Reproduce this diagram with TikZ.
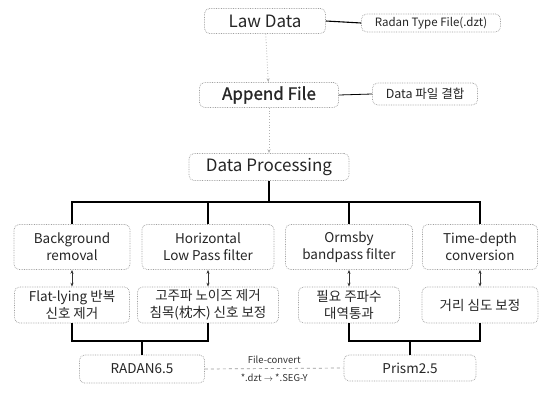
\documentclass[tikz,border=0pt]{standalone}
\usepackage{fontspec}
\setmainfont{Noto Sans CJK KR}
\newfontfamily\semib[FakeBold=1.2]{Noto Sans CJK KR}
\usetikzlibrary{arrows.meta}
\tikzset{
  box/.style={draw=gray!75, densely dotted, line width=0.7pt, rounded corners=5pt, inner sep=0pt, align=center, text=black!85},
  big/.style={box, font=\fontsize{17}{19}\selectfont},
  small/.style={box, font=\fontsize{11.5}{13}\selectfont},
  mid/.style={box, font=\fontsize{13.5}{17}\selectfont},
  tree/.style={draw=black, line width=1.1pt},
  flow/.style={draw=gray!60, dotted, line width=0.8pt, -{Stealth[length=4pt]}},
  dbl/.style={draw=black!80, line width=1pt, {Stealth[length=4pt]}-{Stealth[length=4pt]}},
}
\begin{document}
\begin{tikzpicture}[x=1pt,y=-1pt]
\useasboundingbox[fill=white] (0,0) rectangle (542,394);
% top chain
\node[big, minimum width=121pt, minimum height=25pt] (law) at (265,21) {Law Data};
\node[small, minimum width=139pt, minimum height=18pt] (radan) at (431,23) {Radan Type File(.dzt)};
\node[big, minimum width=139pt, minimum height=25pt, font=\semib\fontsize{17}{19}\selectfont] (app) at (269,95) {Append File};
\node[small, minimum width=105pt, minimum height=22pt, font=\fontsize{12.5}{14}\selectfont] (merge) at (425,94) {Data 파일 결합};
\node[big, minimum width=160pt, minimum height=27pt] (dp) at (269,167) {Data Processing};
\draw[tree] (law.east) -- (radan.west);
\draw[draw=black, line width=0.8pt] (app.east) -- (merge.west);
\draw[flow] (law) -- (app);
\draw[flow] (app) -- (dp);
% row 1
\node[mid, minimum width=116pt, minimum height=45pt] (b1) at (72,247) {Background\\removal};
\node[mid, minimum width=132pt, minimum height=45pt] (b2) at (208,247) {Horizontal\\Low Pass filter};
\node[mid, minimum width=127pt, minimum height=45pt] (b3) at (349,247) {Ormsby\\bandpass filter};
\node[mid, minimum width=115pt, minimum height=45pt] (b4) at (480,247) {Time-depth\\conversion};
% row 2
\node[mid, minimum width=115pt, minimum height=36pt] (c1) at (72,305) {Flat-lying 반복\\신호 제거};
\node[mid, minimum width=141pt, minimum height=36pt] (c2) at (208,305) {고주파 노이즈 제거\\침목(枕木) 신호 보정};
\node[mid, minimum width=101pt, minimum height=36pt] (c3) at (349,305) {필요 주파수\\대역통과};
\node[mid, minimum width=116pt, minimum height=36pt] (c4) at (480,305) {거리 심도 보정};
% tree from Data Processing
\coordinate (j) at (269,202);
\draw[tree, line width=1.8pt] (dp.south) -- (j);
\draw[tree] (b1.north) |- (b4.north |- j) -- (b4.north);
\draw[tree] (b2.north) -- (b2.north |- j);
\draw[tree] (b3.north) -- (b3.north |- j);
% double arrows
\draw[dbl] (b1.south) -- (c1.north);
\draw[dbl] (b2.south) -- (c2.north);
\draw[dbl] (b3.south) -- (c3.north);
\draw[dbl] (b4.south) -- (c4.north);
% bottom programs
\node[mid, minimum width=125pt, minimum height=28pt] (rad) at (142,369) {RADAN6.5};
\node[mid, minimum width=132pt, minimum height=26pt] (pri) at (410,368) {Prism2.5};
\coordinate (k1) at (142,341);
\coordinate (k2) at (410,341);
\draw[tree] (c1.south) |- (c2.south |- k1) -- (c2.south);
\draw[tree] (k1) -- (rad.north);
\draw[tree] (c3.south) |- (c4.south |- k2) -- (c4.south);
\draw[tree] (k2) -- (pri.north);
% file convert
\draw[draw=gray!80, dashed, line width=0.7pt] (rad.east) -- (pri.west)
  node[midway, above=1pt, font=\fontsize{9.5}{10}\selectfont, text=black!80] (fc) {File-convert}
  node[midway, below=2pt, font=\fontsize{9.5}{10}\selectfont, text=black!80] (ext) {*.dzt $\rightarrow$ *.SEG-Y};
\end{tikzpicture}
\end{document}
